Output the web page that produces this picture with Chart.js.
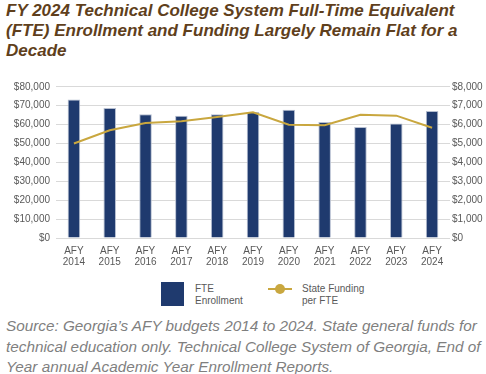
<!DOCTYPE html>
<html>
<head>
<meta charset="utf-8">
<script src="https://cdn.jsdelivr.net/npm/chart.js@4"></script>
<style>
  body { margin: 0; width: 486px; height: 374px; background: #fff; position: relative; overflow: hidden; font-family: "Liberation Sans", Arial, sans-serif; }
  .title { position: absolute; left: 6px; top: 1px; font-size: 17px; line-height: 20px; font-weight: bold; font-style: italic; color: #5f3f1c; }
  .chart-wrap { position: absolute; left: 0; top: 75px; width: 486px; height: 200px; }
  .legend { position: absolute; top: 282px; left: 0; font-size: 10px; line-height: 12px; color: #595959; }
  .legend .box { position: absolute; left: 161px; top: 0; width: 23px; height: 24px; }
  .legend .txt { position: absolute; top: 1px; white-space: nowrap; }
  .legend .ln { position: absolute; left: 268px; top: 6px; width: 24px; height: 2px; }
  .legend .dot { position: absolute; left: 275px; top: 2px; width: 10px; height: 10px; border-radius: 50%; }
  .source { position: absolute; left: 6px; top: 316px; font-size: 15.3px; line-height: 20.5px; font-style: italic; color: #7f7f7f; white-space: nowrap; }
</style>
</head>
<body>
<div class="title">FY 2024 Technical College System Full-Time Equivalent<br>(FTE) Enrollment and Funding Largely Remain Flat for a<br>Decade</div>
<div class="chart-wrap"><canvas class="chart-one"></canvas></div>
<div class="legend"></div>
<div class="source">Source: Georgia’s AFY budgets 2014 to 2024. State general funds for<br>technical education only. Technical College System of Georgia, End of<br>Year annual Academic Year Enrollment Reports.</div>
<script>
// data
const years = ["2014", "2015", "2016", "2017", "2018", "2019", "2020", "2021", "2022", "2023", "2024"];
const fteEnrollment = [73200, 68700, 65400, 64700, 65400, 66600, 67900, 61300, 58700, 60600, 67200];
const fundingPerFte = [5000, 5700, 6080, 6170, 6400, 6650, 5990, 5970, 6520, 6470, 5830];
const fteLabel = ["FTE", "Enrollment"];
const fundingLabel = ["State Funding", "per FTE"];

const navy = "#1f3a6e";
const gold = "#c9a73f";
const tickColor = "#595959";
const tickFont = { size: 10, family: "Liberation Sans", lineHeight: 1.15 };

const canvas = document.querySelector(".chart-one");
const legend = document.querySelector(".legend");

function money(v) {
    return "$" + Number(v).toLocaleString("en-US");
}

// legend in html, two-line labels
legend.innerHTML = `
  <div class="box" style="background:${navy}"></div>
  <div class="txt" style="left:195px">${fteLabel.join("<br>")}</div>
  <div class="ln" style="background:${gold}"></div>
  <div class="dot" style="background:${gold}"></div>
  <div class="txt" style="left:302px">${fundingLabel.join("<br>")}</div>`;

new Chart(canvas, {
    data: {
        labels: years.map(y => ["AFY", y]),
        datasets: [{
            type: "line",
            label: fundingLabel.join(" "),
            data: fundingPerFte,
            yAxisID: "y1",
            borderColor: gold,
            borderWidth: 2,
            pointRadius: 0,
            tension: 0,
            order: 0
        }, {
            type: "bar",
            label: fteLabel.join(" "),
            data: fteEnrollment,
            yAxisID: "y",
            backgroundColor: navy,
            borderColor: "#b5bed0",
            borderWidth: 1,
            barPercentage: 0.7,
            categoryPercentage: 0.5,
            order: 1
        }]
    },
    options: {
        responsive: true,
        maintainAspectRatio: false,
        animation: false,
        layout: { padding: { left: 14, right: 0, top: 0, bottom: 0 } },
        plugins: {
            legend: { display: false },
            tooltip: { enabled: false }
        },
        scales: {
            x: {
                grid: { display: false, drawTicks: false },
                border: { display: false },
                ticks: { color: tickColor, font: tickFont, padding: 7, maxRotation: 0 }
            },
            y: {
                position: "left",
                min: 0,
                max: 80000,
                afterFit: s => { s.width = 42; },
                grid: { color: "#d9d9d9", drawTicks: false },
                border: { display: false },
                ticks: { stepSize: 10000, color: tickColor, font: tickFont, padding: 6, callback: money }
            },
            y1: {
                position: "right",
                min: 0,
                max: 8000,
                afterFit: s => { s.width = 36; },
                grid: { display: false, drawTicks: false },
                border: { display: false },
                ticks: { stepSize: 1000, color: tickColor, font: tickFont, padding: 2, callback: money }
            }
        }
    }
});
</script>
</body>
</html>
